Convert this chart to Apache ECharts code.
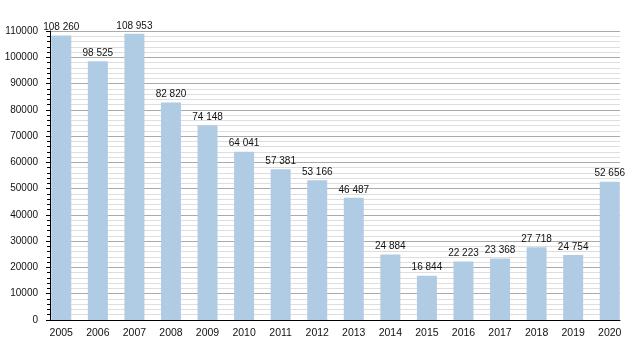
<!DOCTYPE html>
<html>
<head>
<meta charset="utf-8">
<script src="https://cdn.jsdelivr.net/npm/echarts@6/dist/echarts.min.js"></script>
<style>html,body{margin:0;padding:0;background:#fff}#c{width:640px;height:350px}</style>
</head>
<body>
<div id="c"></div>
<script>
var years = ['2005','2006','2007','2008','2009','2010','2011','2012','2013','2014','2015','2016','2017','2018','2019','2020'];
var values = [108260, 98525, 108953, 82820, 74148, 64041, 57381, 53166, 46487, 24884, 16844, 22223, 23368, 27718, 24754, 52656];
var yMin = 0, yMax = 110000, yStep = 10000;

function fmt(v){ return String(v).replace(/\B(?=(\d{3})+(?!\d))/g, ' '); }

var chart = echarts.init(document.getElementById('c'), null, {renderer:'canvas'});
chart.setOption({
  animation: false,
  textStyle: {fontFamily: 'Liberation Sans, Arial, sans-serif'},
  grid: [
    {left: 50, right: 20, top: 31, bottom: 30},
    {left: 43, right: 12, top: 31, bottom: 30}
  ],
  xAxis: [
    {gridIndex: 0, type: 'category', data: years, boundaryGap: true,
     axisLine: {lineStyle: {color: '#000', width: 1}}, axisTick: {show: false}, axisLabel: {show: false}, splitLine: {show: false}},
    {gridIndex: 1, type: 'category', data: years, boundaryGap: true,
     axisLine: {show: false}, axisTick: {show: false},
     axisLabel: {color: '#111', fontSize: 10.5, margin: 8, interval: 0}}
  ],
  yAxis: [
    {gridIndex: 0, type: 'value', min: yMin, max: yMax, interval: yStep,
     axisLine: {show: true, lineStyle: {color: '#000'}},
     axisTick: {show: true, length: 4, lineStyle: {color: '#000'}},
     minorTick: {show: true, splitNumber: 5, length: 3, lineStyle: {color: '#000'}},
     axisLabel: {color: '#111', fontSize: 10, margin: 12, formatter: function(v){ return String(v); }},
     splitLine: {show: true, lineStyle: {color: '#aaaaaa', width: 1}},
     minorSplitLine: {show: true, lineStyle: {color: '#dedede', width: 1}}},
    {gridIndex: 1, type: 'value', min: yMin, max: yMax, interval: yStep, show: false,
     splitLine: {show: false}}
  ],
  series: [{
    type: 'bar', xAxisIndex: 1, yAxisIndex: 1, data: values, barWidth: 20,
    itemStyle: {color: '#b0cce4'},
    label: {show: true, position: 'top', distance: 3, color: '#111', fontSize: 10,
            formatter: function(p){ return fmt(p.value); }}
  }]
});
</script>
</body>
</html>
